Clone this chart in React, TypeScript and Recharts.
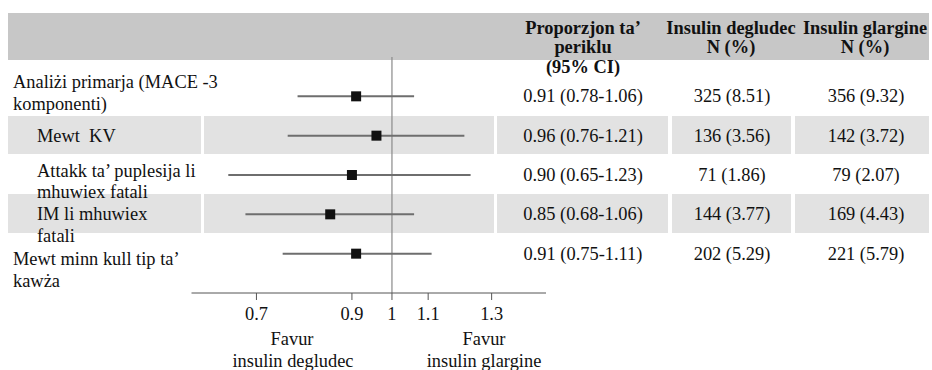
import React from "react"
import { ScatterChart, Scatter, XAxis, YAxis, ErrorBar, ReferenceLine } from "recharts"

// rows, top to bottom
const rowIds = [1, 2, 3, 4, 5]
const rowLabels = [
  ["Analiżi primarja (MACE -3", "komponenti)"],
  ["Mewt\u00a0 KV"],
  ["Attakk ta’ puplesija li", "mhuwiex fatali"],
  ["IM li mhuwiex", "fatali"],
  ["Mewt minn kull tip ta’", "kawża"],
]
const hazardRatio = [0.91, 0.96, 0.9, 0.85, 0.91]
const ciLow = [0.78, 0.76, 0.65, 0.68, 0.75]
const ciHigh = [1.06, 1.21, 1.23, 1.06, 1.11]
const degludecN = [325, 136, 71, 144, 202]
const degludecPct = [8.51, 3.56, 1.86, 3.77, 5.29]
const glargineN = [356, 142, 79, 169, 221]
const glarginePct = [9.32, 3.72, 2.07, 4.43, 5.79]
const xTicks = [0.7, 0.9, 1, 1.1, 1.3]

const FONT = '"Liberation Serif", "Times New Roman", serif'
const INK = "#111"
const FS = 18.4

// label layout (indent + baseline offsets per row)
const labelX = [13, 37, 37, 37, 13]
const labelDy = [[-8, 14], [6], [2, 23], [6, 28], [11, 33]]
const shadedRows = [{ top: 116, bottom: 154 }, { top: 194, bottom: 233 }]
const bandCols = [[8, 201], [204, 494], [497, 668], [672, 791], [795, 929]]

const data = rowIds.map((row, i) => ({
  row,
  hr: hazardRatio[i],
  err: [hazardRatio[i] - ciLow[i], ciHigh[i] - hazardRatio[i]],
}))

// eslint-disable-next-line @typescript-eslint/no-explicit-any
const RowTick = (props: any) => {
  const { y, payload } = props
  const i = Number(payload?.value) - 1
  if (!(i >= 0 && i < rowIds.length)) return <g />
  const cols = [
    { x: 583, text: `${hazardRatio[i].toFixed(2)} (${ciLow[i].toFixed(2)}-${ciHigh[i].toFixed(2)})` },
    { x: 732, text: `${degludecN[i]} (${degludecPct[i].toFixed(2)})` },
    { x: 866, text: `${glargineN[i]} (${glarginePct[i].toFixed(2)})` },
  ]
  return (
    <g>
      {rowLabels[i].map((line, k) => (
        <text key={k} x={labelX[i]} y={y + labelDy[i][k]} textAnchor="start" fill={INK} fontFamily={FONT} fontSize={FS}>
          {line}
        </text>
      ))}
      {cols.map((c, k) => (
        <text key={`c${k}`} x={c.x} y={y + 6} textAnchor="middle" fill={INK} fontFamily={FONT} fontSize={FS}>
          {c.text}
        </text>
      ))}
    </g>
  )
}

// eslint-disable-next-line @typescript-eslint/no-explicit-any
const Square = (props: any) => (
  <rect x={props.cx - 5} y={props.cy - 5} width={10} height={10} fill={INK} />
)

export default function App() {
  return (
    <div style={{ position: "absolute", left: 0, top: 0, width: 932, height: 370, background: "#fff" }}>
      <svg width={932} height={370} style={{ position: "absolute", left: 0, top: 0 }}>
        <rect x={8} y={13} width={921} height={47} fill="#c7c7c7" />
        {shadedRows.map((r, j) =>
          bandCols.map(([a, b], k) => (
            <rect key={`${j}-${k}`} x={a} y={r.top} width={b - a} height={r.bottom - r.top} fill="#e2e2e2" />
          ))
        )}
        <g fontFamily={FONT} fontSize={FS} fontWeight="bold" fill={INK} textAnchor="middle">
          <text x={583} y={34}>Proporzjon ta’</text>
          <text x={583} y={53}>periklu</text>
          <text x={583} y={73}>(95% CI)</text>
          <text x={731} y={34}>Insulin degludec</text>
          <text x={731} y={53}>N (%)</text>
          <text x={865} y={34}>Insulin glargine</text>
          <text x={865} y={53}>N (%)</text>
        </g>
        <g fontFamily={FONT} fontSize={FS} fill={INK} textAnchor="middle">
          <text x={292} y={345}>Favur</text>
          <text x={293} y={367}>insulin degludec</text>
          <text x={484} y={345}>Favur</text>
          <text x={484} y={367}>insulin glargine</text>
        </g>
      </svg>
      <div style={{ position: "absolute", left: 0, top: 0 }}>
        <ScatterChart width={932} height={370} margin={{ top: 57, right: 386, bottom: 47, left: 180 }}>
          <XAxis
            dataKey="hr"
            type="number"
            scale="log"
            domain={[0.59, 1.5]}
            ticks={xTicks}
            interval={0}
            tickFormatter={(v) => String(v)}
            tickSize={7}
            tickMargin={7}
            height={30}
            stroke="#555"
            tick={{ fill: INK, fontSize: FS, fontFamily: FONT }}
          />
          <YAxis
            dataKey="row"
            type="number"
            domain={[0, 6]}
            reversed
            ticks={rowIds}
            interval={0}
            width={11.5}
            axisLine={false}
            tickLine={false}
            tick={RowTick}
          />
          <ReferenceLine x={1} stroke="#8a8a8a" strokeWidth={1.2} />
          <Scatter data={data} shape={<Square />} isAnimationActive={false}>
            <ErrorBar dataKey="err" direction="x" width={0} stroke="#6e6e6e" strokeWidth={2} isAnimationActive={false} />
          </Scatter>
        </ScatterChart>
      </div>
    </div>
  )
}
